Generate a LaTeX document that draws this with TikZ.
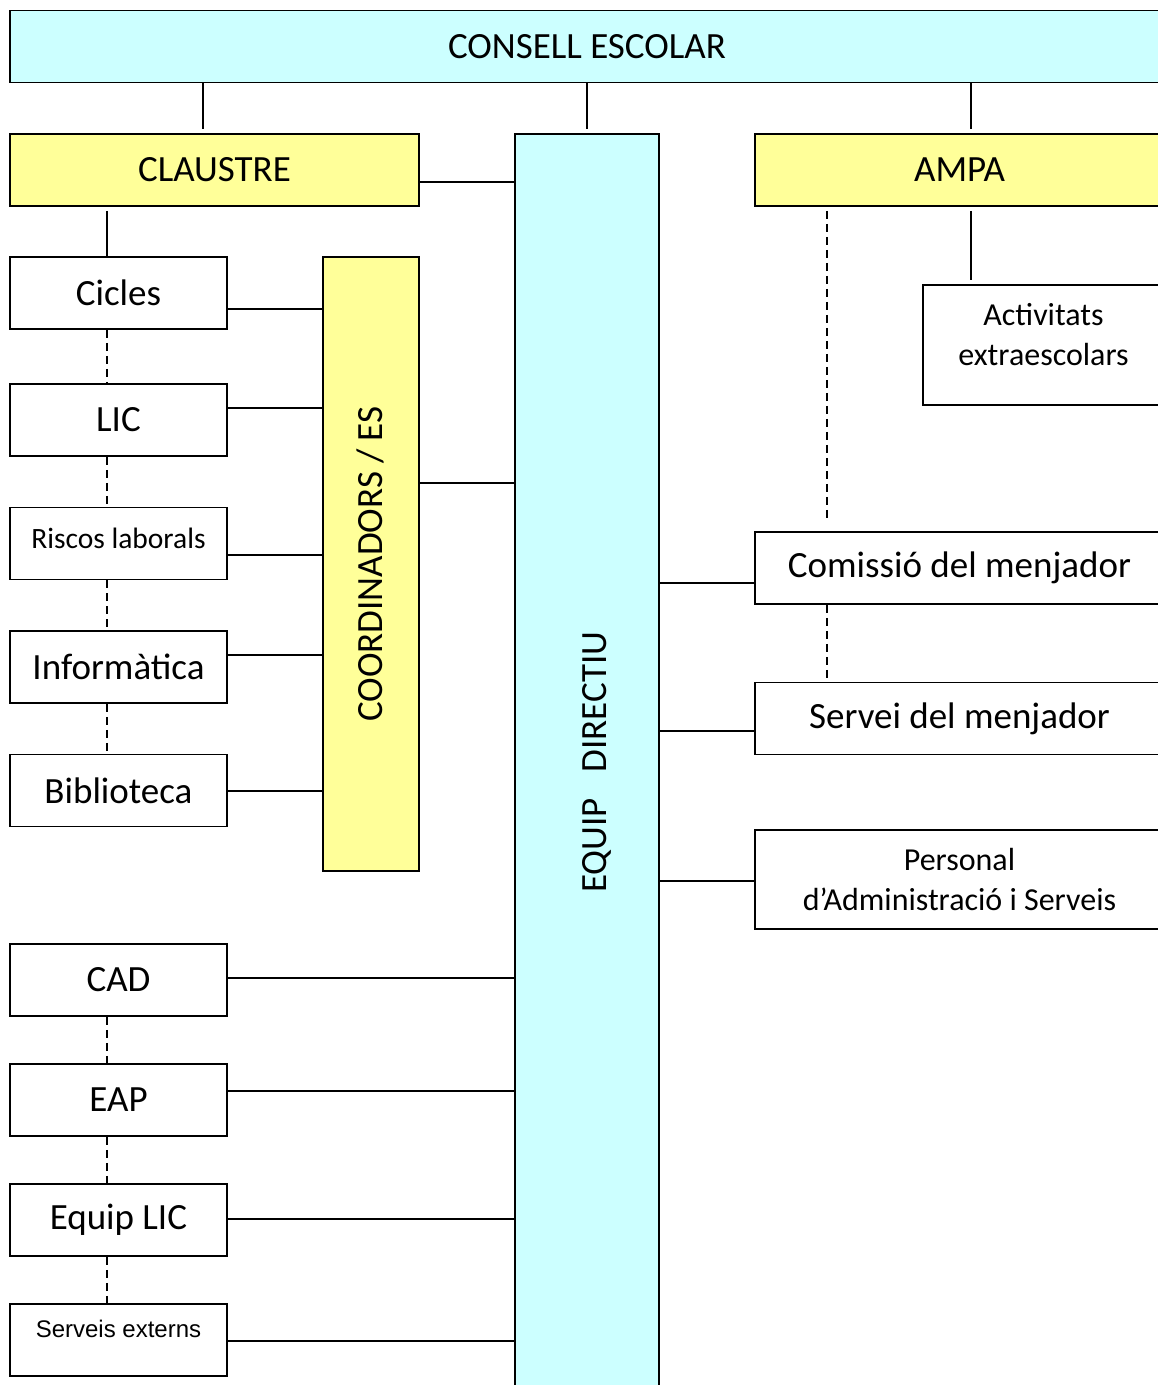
\documentclass[tikz,border=0pt]{standalone}
\usepackage{tikz}
\usepackage{fontspec}
\setmainfont{Carlito}
\newfontfamily\arialfont{Liberation Sans}
\definecolor{paleblue}{HTML}{CCFFFF}
\definecolor{paleyellow}{HTML}{FFFF99}

\begin{document}
\begin{tikzpicture}[x=1pt,y=-1pt,
  box/.style={draw,rectangle,line width=1.7pt,inner sep=0pt,fill=white,
    minimum height=72pt,font=\fontsize{37}{44}\selectfont},
  bluefill/.style={fill=paleblue},
  yellowfill/.style={fill=paleyellow},
  small text/.style={font=\fontsize{32}{40}\selectfont,align=center},
  link/.style={line width=1.3pt},
  dash link/.style={line width=1.3pt,dash pattern=on 8pt off 5pt}]

  \useasboundingbox (0,0) rectangle (1158,1385);

  \node[box,bluefill,minimum width=1154pt] (consell) at (587,46.5) {CONSELL ESCOLAR};
  \node[box,yellowfill,minimum width=409pt] (claustre) at (214.5,170) {CLAUSTRE};
  \node[box,bluefill,minimum width=144pt,minimum height=1266pt] (ed) at (587,767) {};
  \node[box,yellowfill,minimum width=409pt] (ampa) at (959.5,170) {AMPA};

  \node[box,minimum width=217pt] (cicles) at (118.5,293) {Cicles};
  \node[box,minimum width=217pt] (lic) at (118.5,420) {LIC};
  \node[box,minimum width=217pt,font=\fontsize{29.5}{35}\selectfont,text depth=10pt] (riscos) at (118.5,543.5) {Riscos laborals};
  \node[box,minimum width=217pt] (informatica) at (118.5,667) {Informàtica};
  \node[box,minimum width=217pt] (biblioteca) at (118.5,790.5) {Biblioteca};
  \node[box,yellowfill,minimum width=96pt,minimum height=614pt] (coord) at (371,564) {};

  \node[box,minimum width=217pt] (cad) at (118.5,980) {CAD};
  \node[box,minimum width=217pt] (eap) at (118.5,1100) {EAP};
  \node[box,minimum width=217pt] (equiplic) at (118.5,1220) {Equip LIC};
  \node[box,minimum width=217pt,font=\arialfont\fontsize{24}{29}\selectfont,text depth=23pt] (serveis) at (118.5,1340) {Serveis externs};

  \node[box,small text,minimum width=241pt,minimum height=120pt,text depth=22pt] (activitats) at (1043.5,345) {Activitats\\extraescolars};
  \node[box,minimum width=409pt] (comissio) at (959.5,568) {Comissió del menjador};
  \node[box,minimum width=409pt] (servei) at (959.5,718.5) {Servei del menjador};
  \node[box,small text,minimum width=409pt,minimum height=99pt] (personal) at (959.5,879.5) {Personal\\d’Administració i Serveis};

  \node[rotate=90,font=\fontsize{37}{44}\selectfont] (coordtext) at (370,564) {COORDINADORS / ES};
  \node[rotate=90,font=\fontsize{37}{44}\selectfont] (edtext) at (597,762) {EQUIP\hspace{0.7em}DIRECTIU};

  \path[link]
    (consell.south -| 203,0) edge[shorten >=4pt] (claustre.north -| 203,0)
    (consell.south) edge[shorten >=4pt] (ed.north)
    (consell.south -| 971,0) edge[shorten >=4pt] (ampa.north -| 971,0)
    (claustre.east |- 0,182) edge (ed.west |- 0,182)
    (claustre.south -| 107,0) edge[shorten <=4pt] (cicles.north -| 107,0)
    (cicles.east |- 0,309) edge (coord.west |- 0,309)
    (lic.east |- 0,408) edge (coord.west |- 0,408)
    (riscos.east |- 0,555) edge (coord.west |- 0,555)
    (informatica.east |- 0,655) edge (coord.west |- 0,655)
    (biblioteca.east |- 0,791) edge (coord.west |- 0,791)
    (coord.east |- 0,483) edge (ed.west |- 0,483)
    (cad.east |- 0,978) edge (ed.west |- 0,978)
    (eap.east |- 0,1091) edge (ed.west |- 0,1091)
    (equiplic.east |- 0,1219) edge (ed.west |- 0,1219)
    (serveis.east |- 0,1341) edge (ed.west |- 0,1341)
    (ampa.south -| 971,0) edge[shorten <=4pt,shorten >=4pt] (activitats.north -| 971,0)
    (ed.east |- 0,583) edge (comissio.west |- 0,583)
    (ed.east |- 0,731) edge (servei.west |- 0,731)
    (ed.east |- 0,881) edge (personal.west |- 0,881)
    ;

  \path[dash link]
    (cicles.south -| 107,0) edge (lic.north -| 107,0)
    (lic.south -| 107,0) edge (riscos.north -| 107,0)
    (riscos.south -| 107,0) edge (informatica.north -| 107,0)
    (informatica.south -| 107,0) edge (biblioteca.north -| 107,0)
    (cad.south -| 107,0) edge (eap.north -| 107,0)
    (eap.south -| 107,0) edge (equiplic.north -| 107,0)
    (equiplic.south -| 107,0) edge (serveis.north -| 107,0)
    (ampa.south -| 827,0) edge[shorten <=4pt,shorten >=10pt] (comissio.north -| 827,0)
    (comissio.south -| 827,0) edge (servei.north -| 827,0)
    ;
\end{tikzpicture}
\end{document}
